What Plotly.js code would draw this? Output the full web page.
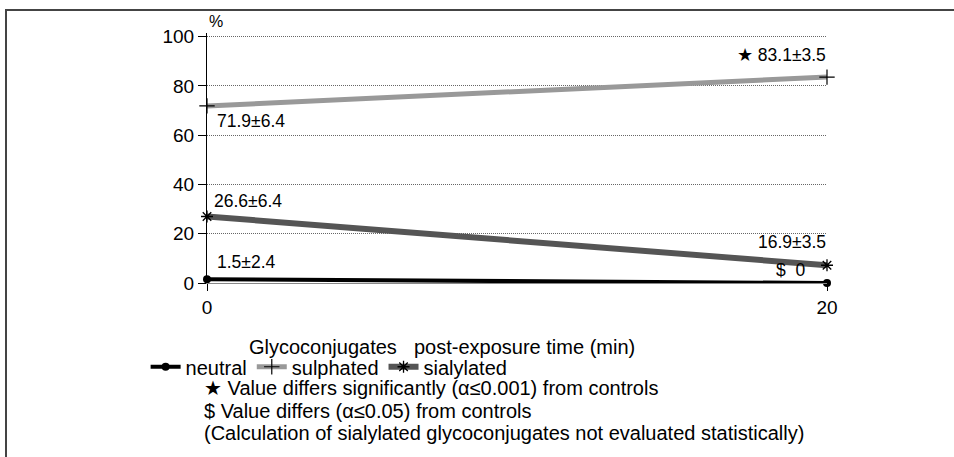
<!DOCTYPE html>
<html>
<head>
<meta charset="utf-8">
<script src="https://cdn.plot.ly/plotly-3.0.1.min.js"></script>
<style>
  html, body { margin: 0; padding: 0; background: #fff; }
  #wrap { position: relative; width: 954px; height: 457px; }
  #chart { width: 954px; height: 457px; }
  #frame { position: absolute; left: 5px; top: 9px; width: 949px; height: 448px;
           border-top: 2px solid #444; border-left: 2px solid #444; pointer-events: none; box-sizing: border-box; }
</style>
</head>
<body>
<div id="wrap">
  <div id="chart"></div>
  <div id="frame"></div>
</div>
<script>
// ---- data ----
const times = [0, 20];
const neutral = [1.5, 0];
const sulphated = [71.9, 83.6];
const sialylated = [27.0, 7.2];
const seriesNames = ["neutral", "sulphated", "sialylated"];
const yTicks = [0, 20, 40, 60, 80, 100];
const xTicks = [0, 20];

// data labels
const labelTexts = ["71.9±6.4", "26.6±6.4", "1.5±2.4", "★ 83.1±3.5", "16.9±3.5", "$  0"];
const labelX = [0, 0, 0, 20, 20, 20];
const labelY = [65.6, 33.1, 8.5, 92.4, 16.6, 5.4];

const FONT = "Liberation Sans, Arial, Helvetica, sans-serif";

const traces = [
  { x: times, y: neutral, name: seriesNames[0], type: "scatter", mode: "lines+markers",
    line: { color: "#000", width: 4 }, marker: { symbol: "circle", size: 8, color: "#000" }, cliponaxis: false },
  { x: times, y: sulphated, name: seriesNames[1], type: "scatter", mode: "lines+markers",
    line: { color: "#999", width: 5 }, marker: { symbol: "cross-thin-open", size: 11, color: "#000", line: { color: "#000", width: 1.2 } }, cliponaxis: false },
  { x: times, y: sialylated, name: seriesNames[2], type: "scatter", mode: "lines+markers",
    line: { color: "#555", width: 6 }, marker: { symbol: "asterisk-open", size: 10, color: "#000", line: { color: "#000", width: 1.3 } }, cliponaxis: false }
];

const annotations = labelTexts.map((t, i) => ({
  x: labelX[i], y: labelY[i], xref: "x", yref: "y", text: t, showarrow: false,
  xanchor: labelX[i] === 0 ? "left" : "right", yanchor: "middle",
  xshift: labelX[i] === 0 ? (i === 1 ? 5 : 8) : (i === 5 ? -20 : 1),
  font: { family: FONT, size: 17.5, color: "#000" }
}));

const NOTE = { family: FONT, size: 20, color: "#000" };
annotations.push(
  { x: 0, y: 100, xref: "paper", yref: "y", yshift: 15, text: "%", showarrow: false, xanchor: "left", yanchor: "middle",
    font: { family: FONT, size: 16, color: "#000" } },
  { x: 0.065, y: -0.254, xref: "paper", yref: "paper", text: "Glycoconjugates", showarrow: false, xanchor: "left", yanchor: "middle", font: NOTE },
  { x: 0.33, y: -0.254, xref: "paper", yref: "paper", text: "post-exposure time (min)", showarrow: false, xanchor: "left", yanchor: "middle", font: NOTE },
  { x: -0.008, y: -0.4205, xref: "paper", yref: "paper", text: "★ Value differs significantly (α≤0.001) from controls", showarrow: false, xanchor: "left", yanchor: "middle", font: NOTE },
  { x: -0.008, y: -0.51, xref: "paper", yref: "paper", text: "$ Value differs (α≤0.05) from controls", showarrow: false, xanchor: "left", yanchor: "middle", font: NOTE },
  { x: -0.008, y: -0.599, xref: "paper", yref: "paper", text: "(Calculation of sialylated glycoconjugates not evaluated statistically)", showarrow: false, xanchor: "left", yanchor: "middle", font: NOTE }
);

const layout = {
  width: 954, height: 457,
  margin: { l: 207, r: 127, t: 33, b: 174, pad: 0 },
  paper_bgcolor: "#fff", plot_bgcolor: "#fff",
  font: { family: FONT, size: 16, color: "#000" },
  showlegend: true,
  legend: { orientation: "h", x: -0.099, xanchor: "left", y: -0.335, yanchor: "middle",
            font: NOTE, bgcolor: "rgba(0,0,0,0)",
            itemwidth: 30, tracegroupgap: 0, traceorder: "normal" },
  xaxis: { range: [0, 20], tickvals: xTicks, ticktext: xTicks.map(String), showgrid: false, zeroline: false,
           showline: true, linecolor: "#888", linewidth: 1, ticks: "outside", ticklen: 7, tickcolor: "#000",
           tickfont: { family: FONT, size: 19, color: "#000" }, fixedrange: true },
  yaxis: { range: [0, 101.5], tickvals: yTicks, ticktext: yTicks.map(String), showgrid: true, gridcolor: "#666", griddash: "1px,1px", gridwidth: 1,
           zeroline: false, showline: true, linecolor: "#000", linewidth: 1, ticks: "outside", ticklen: 8, tickcolor: "#000",
           tickfont: { family: FONT, size: 19, color: "#000" }, fixedrange: true },
  annotations: annotations
};

Plotly.newPlot("chart", traces, layout, { displayModeBar: false, staticPlot: true });
</script>
</body>
</html>
